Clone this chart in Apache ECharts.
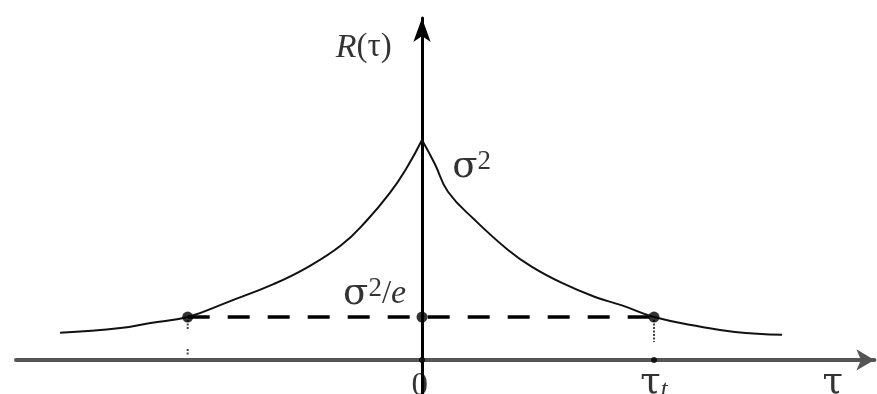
<!DOCTYPE html>
<html>
<head>
<meta charset="utf-8">
<script src="https://cdn.jsdelivr.net/npm/echarts@6/dist/echarts.min.js"></script>
<style>
  html, body { margin: 0; padding: 0; background: #fff; }
  #chart { width: 877px; height: 394px; }
</style>
</head>
<body>
<div id="chart"></div>
<script>
// Autocorrelation R(τ): two branches meeting at the peak σ² (τ in units of τt, R in units of σ²)
const tauLeft  = [-1.56, -1.30, -1.17, -1.01, -0.84, -0.64, -0.50, -0.35, -0.24, -0.14, -0.065, 0];
const rLeft    = [0.123, 0.145, 0.168, 0.195, 0.262, 0.345, 0.418, 0.520, 0.632, 0.757, 0.875, 1.0];
const tauRight = [0, 0.056, 0.112, 0.228, 0.371, 0.474, 0.603, 0.746, 0.862, 1.0, 1.207, 1.349, 1.552];
const rRight   = [1.0, 0.890, 0.765, 0.636, 0.500, 0.423, 0.350, 0.286, 0.248, 0.195, 0.150, 0.127, 0.114];

// σ²/e level and the correlation time τt
const levelE = 0.195;
const tauT = 1.0;
const tauTLeft = -1.01;

// short wavy drop marks under the level points
const dropLeftUpper = [[tauTLeft, 0.182], [tauTLeft, 0.136]];
const dropLeftLower = [[tauTLeft, 0.050], [tauTLeft, 0.018]];
const dropRight     = [[tauT, 0.182], [tauT, 0.082]];

// text labels and where they sit (data coordinates)
const labelRTau   = { at: [-0.13, 1.42], text: '{i|R}(τ)' };
const labelSigma  = { at: [0.13, 0.875], text: '{g|σ}{s|2}' };
const labelLevel  = { at: [-0.34, 0.30], text: '{g|σ}{s|2}/{i|e}' };
const labelZero   = { at: [-0.01, -0.118], text: '0' };
const labelTauT   = { at: [1.0, -0.108], text: '{g|τ}{t|t}' };
const labelTau    = { at: [1.77, -0.108], text: '{g|τ}' };

const zip = (xs, ys) => xs.map((x, i) => [x, ys[i]]);

const FONT = '"Liberation Serif", "DejaVu Serif", serif';
const GREEK = '"DejaVu Serif", "Liberation Serif", serif';
const INK = '#000';
const richStyles = {
  i: { fontStyle: 'italic', fontFamily: FONT, fontSize: 34, color: INK },
  g: { fontFamily: GREEK, fontSize: 37, color: INK },
  s: { fontFamily: FONT, fontSize: 27, lineHeight: 22, verticalAlign: 'top', color: INK },
  t: { fontStyle: 'italic', fontFamily: FONT, fontSize: 25, lineHeight: 24, verticalAlign: 'bottom', color: INK }
};

function textPoint(lbl, position) {
  return {
    value: lbl.at,
    label: {
      show: true,
      position: position,
      distance: 0,
      formatter: lbl.text,
      fontFamily: FONT,
      fontSize: 33,
      lineHeight: 38,
      color: INK,
      rich: richStyles
    }
  };
}

const chart = echarts.init(document.getElementById('chart'), null, { renderer: 'canvas' });

chart.setOption({
  backgroundColor: '#fff',
  animation: false,
  grid: { left: 16, right: 2.6, top: 18, bottom: 0, containLabel: false },
  xAxis: {
    type: 'value',
    min: -1.75,
    max: 1.95,
    axisLine: {
      show: true,
      onZero: true,
      symbol: ['none', 'arrow'],
      symbolSize: [16, 18],
      lineStyle: { color: '#555', width: 4, type: [2, 1.5] }
    },
    axisTick: { show: false },
    axisLabel: { show: false },
    splitLine: { show: false }
  },
  yAxis: {
    type: 'value',
    min: -0.155,
    max: 1.555,
    axisLine: {
      show: true,
      onZero: true,
      symbol: ['none', 'arrow'],
      symbolSize: [13, 24],
      lineStyle: { color: '#000', width: 3 }
    },
    axisTick: { show: false },
    axisLabel: { show: false },
    splitLine: { show: false }
  },
  series: [
    {
      name: 'left',
      type: 'line',
      data: zip(tauLeft, rLeft),
      smooth: 0.45,
      showSymbol: false,
      lineStyle: { color: '#111', width: 2 },
      z: 3
    },
    {
      name: 'right',
      type: 'line',
      data: zip(tauRight, rRight),
      smooth: 0.45,
      showSymbol: false,
      lineStyle: { color: '#111', width: 2 },
      z: 3
    },
    {
      name: 'level',
      type: 'line',
      data: [[tauTLeft, levelE], [tauT, levelE]],
      showSymbol: false,
      lineStyle: { color: '#000', width: 3.5, type: [22, 18] },
      z: 2
    },
    {
      name: 'dropLeftUpper',
      type: 'line',
      data: dropLeftUpper,
      showSymbol: false,
      lineStyle: { color: '#444', width: 2, type: [2, 1.5] }
    },
    {
      name: 'dropLeftLower',
      type: 'line',
      data: dropLeftLower,
      showSymbol: false,
      lineStyle: { color: '#444', width: 2, type: [2, 1.5] }
    },
    {
      name: 'dropRight',
      type: 'line',
      data: dropRight,
      showSymbol: false,
      lineStyle: { color: '#444', width: 2, type: [2, 1.5] }
    },
    {
      name: 'levelPoints',
      type: 'scatter',
      data: [[tauTLeft, levelE], [0, levelE], [tauT, levelE]],
      symbolSize: 11,
      itemStyle: { color: '#000' },
      z: 4
    },
    {
      name: 'axisPoints',
      type: 'scatter',
      data: [[0, 0], [tauT, 0]],
      symbolSize: 6,
      itemStyle: { color: '#000' },
      z: 4
    },
    {
      name: 'labels',
      type: 'scatter',
      symbolSize: 0,
      silent: true,
      data: [
        textPoint(labelRTau, 'left'),
        textPoint(labelSigma, 'right'),
        textPoint(labelLevel, 'right'),
        textPoint(labelZero, 'inside'),
        textPoint(labelTauT, 'inside'),
        textPoint(labelTau, 'inside')
      ],
      z: 5
    }
  ]
});
</script>
</body>
</html>
